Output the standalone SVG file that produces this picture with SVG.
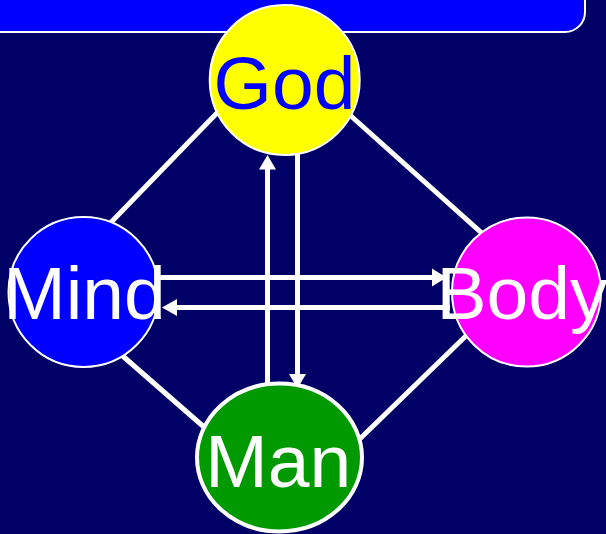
<svg xmlns="http://www.w3.org/2000/svg" width="606" height="534" viewBox="0 0 606 534">
  <defs>
    <style>
      .bg { fill: #000066; }
      .bar { fill: #0000FF; stroke: #FFFFFF; stroke-width: 2; }
      .node { stroke: #FFFFFF; stroke-width: 2; }
      .lbl { font-family: "Liberation Sans", Arial, sans-serif; font-size: 75px; text-anchor: middle; fill: #FFFFFF; }
      .edge { stroke: #FFFFFF; stroke-width: 5; fill: none; }
      .head { fill: #FFFFFF; }
    </style>
  </defs>
  <rect class="bg" x="0" y="0" width="606" height="534"/>
  <rect class="bar" x="-20" y="-40" width="605" height="72" rx="20" ry="20"/>

  <g id="connectors">
    <line class="edge" x1="224.7" y1="105" x2="105.3" y2="228.2"/>
    <line class="edge" x1="343.7" y1="109.5" x2="486.3" y2="237.2"/>
    <line class="edge" x1="117" y1="351" x2="209.7" y2="432"/>
    <line class="edge" x1="472" y1="330" x2="353" y2="445.5"/>
    <!-- Mind -> Body -->
    <line class="edge" x1="158" y1="277.5" x2="434" y2="277.5"/>
    <polygon class="head" points="446.5,277.5 432,268.5 432,286.5"/>
    <!-- Body -> Mind -->
    <line class="edge" x1="450" y1="307.5" x2="175" y2="307.5"/>
    <polygon class="head" points="162,307.5 177,299 177,316"/>
    <!-- Man -> God -->
    <line class="edge" x1="267.5" y1="395" x2="267.5" y2="167"/>
    <polygon class="head" points="267.5,155 259,169.5 276,169.5"/>
    <!-- God -> Man -->
    <line class="edge" x1="297.5" y1="140" x2="297.5" y2="376"/>
    <polygon class="head" points="297.5,388.5 289,374 306,374"/>
  </g>

  <g id="god">
    <circle class="node" cx="284.7" cy="80" r="75" fill="#FFFF00"/>
    <text class="lbl" x="284.5" y="108.5" style="fill:#0000FF">God</text>
  </g>
  <g id="mind">
    <circle class="node" cx="83.5" cy="292" r="75" fill="#0000FF"/>
    <text class="lbl" x="84.5" y="319.3">Mind</text>
  </g>
  <g id="body">
    <circle class="node" cx="526.5" cy="292" r="74.5" fill="#FF00FF"/>
    <text class="lbl" x="522" y="319.3">Body</text>
  </g>
  <g id="man">
    <ellipse cx="279.5" cy="457.5" rx="82.5" ry="74" fill="#009900" stroke="#FFFFFF" stroke-width="4"/>
    <text class="lbl" x="278.3" y="486.7">Man</text>
  </g>
</svg>
